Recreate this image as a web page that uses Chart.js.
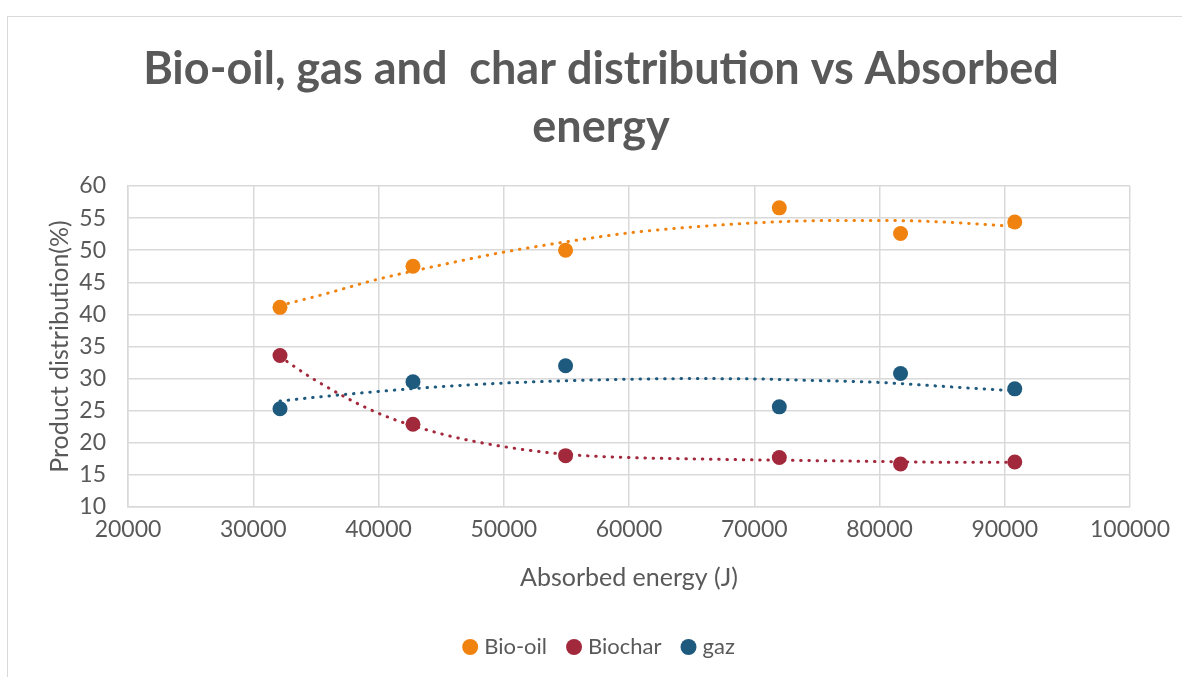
<!DOCTYPE html>
<html>
<head>
<meta charset="utf-8">
<script src="https://cdn.jsdelivr.net/npm/chart.js@4.4.1/dist/chart.umd.min.js"></script>
<style>
    body { margin: 0; background: #fff; }
    #wrap { position: relative; width: 1182px; height: 677px; }
    #frame {
        position: absolute; left: 7px; top: 16px; right: 0; bottom: 0;
        border-left: 1.5px solid #d9d9d9; border-top: 1.5px solid #d9d9d9;
        pointer-events: none;
    }
</style>
</head>
<body>
<div id="wrap">
    <canvas id="product-chart" width="1182" height="677"></canvas>
    <div id="frame"></div>
</div>
<script>
// measured points
const energy = [32136, 42752, 54936, 72000, 81680, 90800];
const bioOil = [41.1, 47.5, 50.0, 56.6, 52.6, 54.4];
const biochar = [33.6, 22.9, 18.0, 17.7, 16.7, 17.0];
const gaz = [25.3, 29.5, 32.0, 25.6, 30.8, 28.4];

// trendlines
const trendEnergy = [32136, 35000, 40000, 45000, 50000, 55000, 60000, 65000, 70000, 75000, 80000, 85000, 90800];
const bioOilTrend = [41.4, 42.8, 45.5, 47.7, 49.7, 51.3, 52.7, 53.6, 54.25, 54.6, 54.64, 54.4, 53.7];
const biocharTrend = [33.4, 29.7, 24.6, 21.4, 19.4, 18.2, 17.7, 17.5, 17.34, 17.22, 17.09, 16.98, 16.98];
const gazTrend = [26.5, 27.1, 28.0, 28.75, 29.3, 29.66, 29.9, 30.0, 29.95, 29.7, 29.4, 28.8, 28.1];

const xTicks = [20000, 30000, 40000, 50000, 60000, 70000, 80000, 90000, 100000];
const yTicks = [10, 15, 20, 25, 30, 35, 40, 45, 50, 55, 60];

const titleLines = ['Bio-oil, gas and  char distribution vs Absorbed', 'energy'];

const textColor = '#595959';
const gridColor = '#d9d9d9';
const fontFamily = 'Lato, "Open Sans", sans-serif';

function pts(xs, ys) {
    return xs.map((x, i) => ({ x: x, y: ys[i] }));
}

function pointSet(label, ys, color) {
    return {
        label: label,
        data: pts(energy, ys),
        backgroundColor: color,
        borderColor: color,
        pointRadius: 7.5,
        pointHoverRadius: 7.5,
        pointBorderWidth: 0,
        showLine: false
    };
}

function trendSet(label, ys, color) {
    return {
        label: label,
        data: pts(trendEnergy, ys),
        borderColor: color,
        backgroundColor: color,
        borderWidth: 3,
        borderDash: [0.5, 7.7],
        borderCapStyle: 'round',
        pointRadius: 0,
        showLine: true,
        cubicInterpolationMode: 'monotone'
    };
}

const orange = '#f0830f';
const red = '#a2293b';
const blue = '#1e5a7e';

new Chart(document.getElementById('product-chart').getContext('2d'), {
    type: 'scatter',
    data: {
        datasets: [
            pointSet('Bio-oil', bioOil, orange),
            pointSet('Biochar', biochar, red),
            pointSet('gaz', gaz, blue),
            trendSet('Bio-oil trend', bioOilTrend, orange),
            trendSet('Biochar trend', biocharTrend, red),
            trendSet('gaz trend', gazTrend, blue)
        ]
    },
    options: {
        responsive: false,
        animation: false,
        layout: { padding: { left: 20, right: 0, top: 0, bottom: 9 } },
        plugins: {
            tooltip: { enabled: false },
            title: {
                display: true,
                text: titleLines,
                color: textColor,
                font: { family: fontFamily, size: 45, weight: 'bold', lineHeight: '58px' },
                padding: { top: 40, bottom: 30 }
            },
            legend: {
                position: 'bottom',
                labels: {
                    color: textColor,
                    font: { family: fontFamily, size: 22 },
                    usePointStyle: true,
                    pointStyle: 'circle',
                    boxWidth: 6,
                    boxHeight: 11.3,
                    padding: 24,
                    filter: item => !item.text.includes('trend')
                }
            }
        },
        scales: {
            x: {
                type: 'linear',
                min: 20000,
                max: 100000,
                afterBuildTicks: axis => { axis.ticks = xTicks.map(v => ({ value: v })); },
                afterFit: axis => { axis.height = 105; },
                grid: { color: gridColor, lineWidth: 1.5, drawTicks: false },
                border: { color: gridColor, width: 1.5 },
                ticks: {
                    color: textColor,
                    font: { family: fontFamily, size: 23 },
                    padding: 9,
                    maxRotation: 0,
                    callback: v => String(v)
                },
                title: {
                    display: true,
                    text: 'Absorbed energy (J)',
                    color: textColor,
                    font: { family: fontFamily, size: 25 },
                    padding: { top: 4, bottom: 19 }
                }
            },
            y: {
                min: 10,
                max: 60,
                afterBuildTicks: axis => { axis.ticks = yTicks.map(v => ({ value: v })); },
                afterFit: axis => { axis.width = 108; },
                grid: { color: gridColor, lineWidth: 1.5, drawTicks: false },
                border: { color: gridColor, width: 1.5 },
                ticks: { color: textColor, font: { family: fontFamily, size: 23 }, padding: 22 },
                title: {
                    display: true,
                    text: 'Product distribution(%)',
                    color: textColor,
                    font: { family: fontFamily, size: 25 },
                    padding: { top: 25, bottom: 0 }
                }
            },
            // empty right-hand gutter so the plot ends where the original does
            gutter: {
                type: 'linear',
                position: 'right',
                display: true,
                grid: { display: false },
                border: { display: false },
                ticks: { display: false },
                afterFit: axis => { axis.width = 52; }
            }
        }
    }
});
</script>
</body>
</html>
